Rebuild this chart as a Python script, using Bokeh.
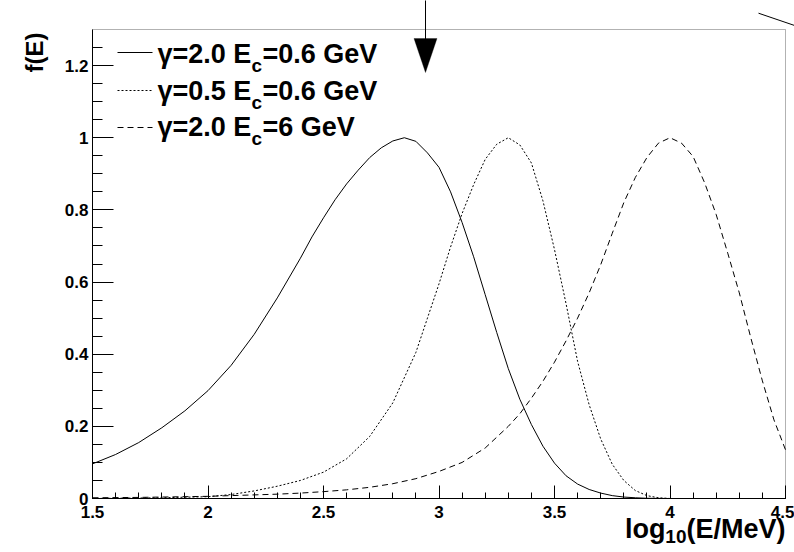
import math
from bokeh.plotting import figure
from bokeh.models import (Range1d, SingleIntervalTicker, CustomJSTickFormatter,
                          Label, Arrow, PolyAnnotation, BoxAnnotation, LinearAxis)
from bokeh.embed import file_html
from bokeh.resources import INLINE

# ---------------- data ----------------
x_solid = [1.5, 1.6, 1.7, 1.8, 1.9, 2.0, 2.1, 2.2, 2.3, 2.4, 2.45, 2.5, 2.55, 2.6,
           2.65, 2.7, 2.75, 2.8, 2.85, 2.9, 2.95, 3.0, 3.05, 3.1, 3.15, 3.2, 3.25,
           3.3, 3.35, 3.4, 3.45, 3.5, 3.55, 3.6, 3.65, 3.7, 3.75, 3.8, 3.85, 3.9,
           4.0, 4.5]
y_solid = [0.096, 0.122, 0.155, 0.196, 0.243, 0.299, 0.369, 0.455, 0.556, 0.666,
           0.725, 0.778, 0.828, 0.872, 0.91, 0.945, 0.972, 0.991, 1.0, 0.99,
           0.958, 0.918, 0.85, 0.765, 0.67, 0.565, 0.46, 0.36, 0.275, 0.205,
           0.145, 0.098, 0.063, 0.04, 0.025, 0.015, 0.008, 0.004, 0.002, 0.0006,
           0.0, 0.0]

x_dotted = [1.5, 1.8, 2.0, 2.1, 2.2, 2.3, 2.4, 2.5, 2.6, 2.7, 2.8, 2.9, 2.95, 3.0,
            3.05, 3.1, 3.15, 3.2, 3.25, 3.3, 3.35, 3.4, 3.45, 3.5, 3.55, 3.6,
            3.65, 3.7, 3.75, 3.8, 3.85, 3.9, 3.95, 4.0, 4.5]
y_dotted = [0.0, 0.002, 0.005, 0.011, 0.021, 0.034, 0.050, 0.073, 0.110, 0.172,
            0.265, 0.405, 0.50, 0.595, 0.697, 0.79, 0.87, 0.94, 0.982, 1.0, 0.98,
            0.93, 0.825, 0.69, 0.54, 0.38, 0.26, 0.165, 0.095, 0.05, 0.022,
            0.008, 0.002, 0.0, 0.0]

x_dashed = [1.5, 1.7, 1.9, 2.0, 2.1, 2.2, 2.3, 2.4, 2.5, 2.6, 2.7, 2.8, 2.9, 3.0,
            3.1, 3.2, 3.3, 3.35, 3.4, 3.45, 3.5, 3.55, 3.6, 3.65, 3.7, 3.75, 3.8,
            3.85, 3.9, 3.95, 4.0, 4.05, 4.1, 4.15, 4.2, 4.25, 4.3, 4.35, 4.4,
            4.45, 4.5]
y_dashed = [0.002, 0.003, 0.005, 0.006, 0.008, 0.010, 0.012, 0.015, 0.019, 0.024,
            0.031, 0.041, 0.055, 0.075, 0.10, 0.14, 0.20, 0.235, 0.278, 0.325,
            0.378, 0.437, 0.50, 0.57, 0.648, 0.735, 0.82, 0.89, 0.945, 0.985,
            1.0, 0.985, 0.948, 0.875, 0.787, 0.68, 0.57, 0.445, 0.326, 0.218,
            0.135]

legend_main = ["γ=2.0 E", "γ=0.5 E", "γ=2.0 E"]
legend_sub = ["c", "c", "c"]
legend_tail = ["=0.6 GeV", "=0.6 GeV", "=6 GeV"]
legend_dash = ["solid", "2 2", "6 4"]

x_title = ["log", "10", "(E/MeV)"]
y_title = "f(E)"

X0, X1 = 1.5, 4.5
Y0, Y1 = 0.0, 1.3

# ---------------- geometry (pixel box of the axes on the page) ----------------
W, H = 794, 552
L, R, T, B = 92, 9, 29, 54
FW = W - L - R
FH = H - T - B
FONT = "Liberation Sans"
FIX = 11  # label baselines render this many px lower than their anchor


def dx(px):
    return X0 + (px - L) * (X1 - X0) / FW


def dy(py):
    return Y0 + (T + FH - py) * (Y1 - Y0) / FH


def lab(px, py, text, size, align="left", angle=0.0):
    return Label(x=dx(px), y=dy(py), text=text, text_font=FONT,
                 text_font_style="bold", text_font_size=size,
                 text_color="black", text_align=align,
                 text_baseline="alphabetic", angle=angle)


# the drawing area spans the whole page so that nothing outside the axes box is clipped
p = figure(width=W, height=H, output_backend="svg", toolbar_location=None,
           x_range=Range1d(dx(0), dx(W)), y_range=Range1d(dy(H), dy(0)),
           x_axis_location=None, y_axis_location=None,
           min_border=0, min_border_left=0, min_border_right=0,
           min_border_top=0, min_border_bottom=0)
p.background_fill_color = "white"
p.border_fill_color = "white"
p.outline_line_color = None
p.xgrid.visible = False
p.ygrid.visible = False

fmt = CustomJSTickFormatter(code="return Number(tick.toFixed(2)).toString()")
xaxis = LinearAxis(fixed_location=Y0, bounds=(X0, X1),
                   ticker=SingleIntervalTicker(interval=0.5, num_minor_ticks=5))
yaxis = LinearAxis(fixed_location=X0, bounds=(Y0, Y1),
                   ticker=SingleIntervalTicker(interval=0.2, num_minor_ticks=4))
for ax, maj, mnr, so in ((xaxis, 13, 6, 7), (yaxis, 21, 10, 4)):
    ax.formatter = fmt
    ax.major_tick_in = maj
    ax.major_tick_out = 0
    ax.minor_tick_in = mnr
    ax.minor_tick_out = 0
    ax.axis_line_color = "black"
    ax.major_tick_line_color = "black"
    ax.minor_tick_line_color = "black"
    ax.major_label_text_font = FONT
    ax.major_label_text_font_style = "bold"
    ax.major_label_text_font_size = "17px"
    ax.major_label_text_color = "black"
    ax.major_label_standoff = so
p.add_layout(xaxis, "below")
p.add_layout(yaxis, "left")

# frame of the axes box
p.add_layout(BoxAnnotation(left=X0, right=X1, bottom=Y0, top=Y1,
                           fill_color=None, fill_alpha=0, line_color="black",
                           line_width=1))

# curves
p.line(x_solid, y_solid, line_color="black", line_width=1)
p.line(x_dotted, y_dotted, line_color="black", line_width=1, line_dash="2 2")
p.line(x_dashed, y_dashed, line_color="black", line_width=1, line_dash="6 4")

# legend (drawn by hand so the subscript can be kept)
row_line = [52, 90, 127]
row_base = [64, 101, 137]
for i in range(3):
    p.line([dx(117), dx(152)], [dy(row_line[i])] * 2, line_color="black",
           line_width=1, line_dash=legend_dash[i])
    p.add_layout(lab(157, row_base[i] - FIX, legend_main[i], "27px"))
    p.add_layout(lab(251, row_base[i] + 12 - FIX, legend_sub[i], "19px"))
    p.add_layout(lab(262, row_base[i] - FIX, legend_tail[i], "27px"))

# axis titles
p.add_layout(lab(785, 539 - FIX, x_title[2], "27px", align="right"))
p.add_layout(lab(686, 547 - FIX, x_title[1], "19px", align="right"))
p.add_layout(lab(665, 539 - FIX, x_title[0], "27px", align="right"))
p.add_layout(lab(45 - FIX, 32, y_title, "24px", align="right", angle=math.pi / 2))

# arrow marker
ax_px = 425
p.add_layout(Arrow(x_start=dx(ax_px), y_start=dy(-5), x_end=dx(ax_px), y_end=dy(40),
                   end=None, line_color="black", line_width=1))
p.add_layout(PolyAnnotation(xs=[dx(ax_px - 11.5), dx(ax_px + 11.5), dx(ax_px)],
                            ys=[dy(38), dy(38), dy(72)],
                            fill_color="black", fill_alpha=1.0,
                            line_color="black", line_width=1))
# stray diagonal stroke at top right
p.add_layout(Arrow(x_start=dx(758), y_start=dy(12.7), x_end=dx(800), y_end=dy(27),
                   end=None, line_color="black", line_width=1))

open("out.html", "w").write(file_html(p, INLINE))
